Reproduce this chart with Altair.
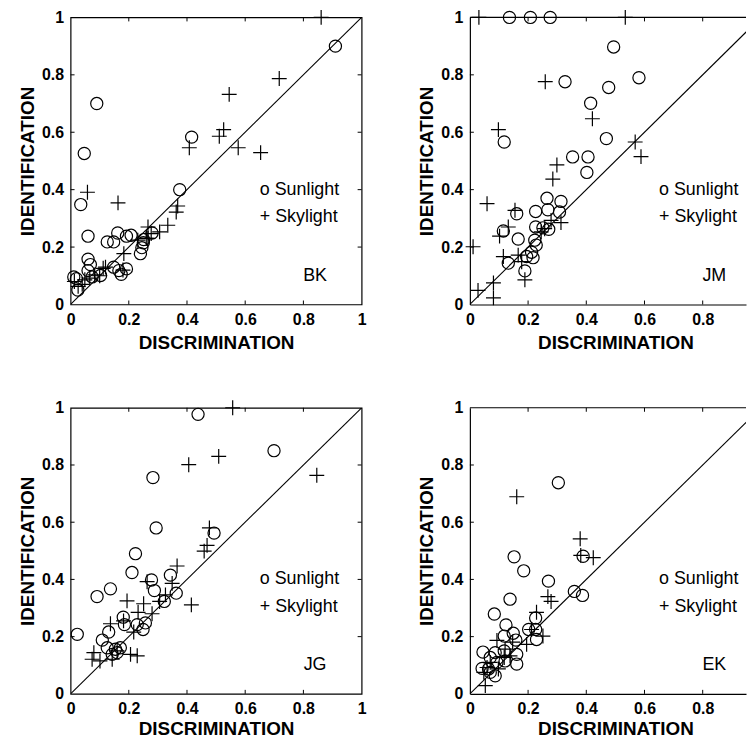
import altair as alt
import pandas as pd

TICKS = [0, 0.2, 0.4, 0.6, 0.8, 1]
INNER_TICKS = [0.2, 0.4, 0.6, 0.8]
DIAG = [0, 1]

# ---------------- BK ----------------
bk_sun_x = [0.91, 0.09, 0.047, 0.035, 0.416, 0.375, 0.060, 0.126, 0.148, 0.162, 0.192, 0.208,
            0.280, 0.251, 0.245, 0.240, 0.060, 0.068, 0.060, 0.148, 0.166, 0.174, 0.192, 0.103,
            0.074, 0.011, 0.025, 0.020, 0.250]
bk_sun_y = [0.90, 0.70, 0.526, 0.348, 0.583, 0.400, 0.238, 0.218, 0.218, 0.249, 0.238, 0.241,
            0.249, 0.226, 0.198, 0.177, 0.158, 0.139, 0.118, 0.130, 0.118, 0.105, 0.124, 0.101,
            0.096, 0.096, 0.050, 0.090, 0.215]
bk_sky_x = [0.861, 0.717, 0.545, 0.526, 0.511, 0.408, 0.576, 0.653, 0.058, 0.163, 0.368, 0.363,
            0.334, 0.306, 0.266, 0.277, 0.260, 0.231, 0.183, 0.112, 0.083, 0.049, 0.013, 0.026,
            0.066, 0.180, 0.266, 0.100, 0.120, 0.040]
bk_sky_y = [1.0, 0.787, 0.732, 0.609, 0.586, 0.546, 0.546, 0.529, 0.391, 0.354, 0.343, 0.322,
            0.276, 0.253, 0.270, 0.247, 0.230, 0.224, 0.177, 0.126, 0.103, 0.086, 0.080, 0.063,
            0.092, 0.120, 0.230, 0.100, 0.130, 0.070]

# ---------------- JM ----------------
jm_sun_x = [0.136, 0.208, 0.276, 0.494, 0.327, 0.581, 0.477, 0.415, 0.469, 0.118, 0.353, 0.406,
            0.402, 0.265, 0.313, 0.161, 0.226, 0.268, 0.308, 0.115, 0.226, 0.251, 0.271, 0.166,
            0.223, 0.228, 0.212, 0.195, 0.217, 0.132, 0.189]
jm_sun_y = [1.0, 1.0, 1.0, 0.897, 0.776, 0.790, 0.756, 0.701, 0.578, 0.566, 0.514, 0.514,
            0.460, 0.370, 0.359, 0.316, 0.324, 0.330, 0.322, 0.256, 0.270, 0.267, 0.262, 0.228,
            0.224, 0.207, 0.182, 0.167, 0.163, 0.144, 0.117]
jm_sky_x = [0.031, 0.534, 0.259, 0.421, 0.098, 0.568, 0.588, 0.299, 0.285, 0.059, 0.155, 0.132,
            0.102, 0.011, 0.115, 0.166, 0.178, 0.313, 0.279, 0.257, 0.245, 0.189, 0.081, 0.028,
            0.081]
jm_sky_y = [1.0, 1.0, 0.776, 0.647, 0.609, 0.566, 0.515, 0.486, 0.437, 0.351, 0.328, 0.270,
            0.238, 0.201, 0.167, 0.172, 0.149, 0.285, 0.293, 0.264, 0.253, 0.086, 0.075, 0.049,
            0.023]

# ---------------- JG ----------------
jg_sun_x = [0.438, 0.699, 0.283, 0.294, 0.493, 0.223, 0.211, 0.343, 0.278, 0.288, 0.363, 0.322,
            0.137, 0.091, 0.181, 0.185, 0.229, 0.249, 0.257, 0.131, 0.023, 0.109, 0.126, 0.154,
            0.160, 0.143, 0.171]
jg_sun_y = [0.977, 0.850, 0.756, 0.580, 0.562, 0.490, 0.424, 0.415, 0.398, 0.361, 0.352, 0.323,
            0.367, 0.340, 0.268, 0.242, 0.242, 0.225, 0.248, 0.216, 0.208, 0.188, 0.161, 0.156,
            0.144, 0.138, 0.161]
jg_sky_x = [0.557, 0.509, 0.406, 0.846, 0.477, 0.469, 0.459, 0.366, 0.263, 0.349, 0.194, 0.251,
            0.415, 0.306, 0.326, 0.232, 0.280, 0.137, 0.217, 0.080, 0.074, 0.101, 0.143, 0.206,
            0.229, 0.160, 0.182]
jg_sky_y = [1.0, 0.830, 0.801, 0.764, 0.580, 0.519, 0.499, 0.447, 0.392, 0.386, 0.325, 0.315,
            0.311, 0.323, 0.346, 0.285, 0.280, 0.245, 0.216, 0.144, 0.121, 0.115, 0.121, 0.138,
            0.133, 0.150, 0.255]

# ---------------- EK ----------------
ek_sun_x = [0.304, 0.152, 0.185, 0.389, 0.270, 0.138, 0.359, 0.387, 0.084, 0.124, 0.149, 0.202,
            0.226, 0.226, 0.229, 0.158, 0.118, 0.045, 0.087, 0.118, 0.161, 0.161, 0.070, 0.093,
            0.121, 0.064, 0.087, 0.070, 0.042]
ek_sun_y = [0.738, 0.479, 0.430, 0.481, 0.394, 0.331, 0.358, 0.344, 0.279, 0.241, 0.212, 0.225,
            0.265, 0.225, 0.190, 0.188, 0.202, 0.146, 0.144, 0.150, 0.138, 0.104, 0.127, 0.110,
            0.115, 0.087, 0.063, 0.075, 0.089]
ek_sky_x = [0.161, 0.379, 0.424, 0.381, 0.268, 0.279, 0.229, 0.212, 0.251, 0.195, 0.093, 0.147,
            0.121, 0.048, 0.053, 0.070, 0.098, 0.118, 0.138, 0.059]
ek_sky_y = [0.689, 0.542, 0.476, 0.484, 0.340, 0.323, 0.285, 0.225, 0.202, 0.173, 0.187, 0.181,
            0.156, 0.075, 0.029, 0.110, 0.087, 0.127, 0.133, 0.092]

UNIT = 293          # pixels per unit on the x axis
H_TOP, H_BOTTOM = 289, 288
W_RIGHT = 278       # right column is cut off by the page edge, as in the original
FONT = "Liberation Sans"
PLUS = "M-1,0H1M0,-1V1"


def panel(name, sun_x, sun_y, sky_x, sky_y, H, title_pad, cut=False):
    W = W_RIGHT if cut else UNIT
    xmax = W / UNIT
    xs = alt.Scale(domain=[0, xmax], nice=False, zero=False)
    ys = alt.Scale(domain=[0, 1], nice=False, zero=False)
    xvals = [t for t in TICKS if t <= xmax]
    x_axis = alt.Axis(title="DISCRIMINATION", values=xvals, format=".1~f",
                      labelPadding=7, titlePadding=title_pad, titleX=UNIT / 2,
                      domain=cut, domainColor="black", domainWidth=1.2)
    y_axis = alt.Axis(title="IDENTIFICATION", values=TICKS, format=".1~f",
                      labelPadding=7, titlePadding=4,
                      domain=cut, domainColor="black", domainWidth=1.2)

    def X(f):
        return alt.X(f, scale=xs, axis=x_axis, title="DISCRIMINATION")

    def Y(f):
        return alt.Y(f, scale=ys, axis=y_axis, title="IDENTIFICATION")

    diag = alt.Chart(pd.DataFrame({"a": [DIAG[0]], "b": [DIAG[1]]})).mark_rule(
        color="black", strokeWidth=1.1, clip=True
    ).encode(x=X("a:Q"), y=Y("a:Q"), x2="b:Q", y2="b:Q")

    sun = alt.Chart(pd.DataFrame({"x": sun_x, "y": sun_y})).mark_point(
        shape="circle", filled=False, size=150, color="black", strokeWidth=1.2, opacity=1
    ).encode(x=X("x:Q"), y=Y("y:Q"))

    sky = alt.Chart(pd.DataFrame({"x": sky_x, "y": sky_y})).mark_point(
        shape=PLUS, filled=False, size=225, color="black", strokeWidth=1.2, opacity=1
    ).encode(x=X("x:Q"), y=Y("y:Q"))

    tdf = pd.DataFrame({"v": INNER_TICKS})
    layers = [diag, sun, sky]
    layers.append(alt.Chart(tdf).mark_rule(color="black", strokeWidth=1).encode(
        x=X("v:Q"), y=alt.value(H), y2=alt.value(H - 4)))
    layers.append(alt.Chart(tdf).mark_rule(color="black", strokeWidth=1).encode(
        x=X("v:Q"), y=alt.value(0), y2=alt.value(4)))
    layers.append(alt.Chart(tdf).mark_rule(color="black", strokeWidth=1).encode(
        y=Y("v:Q"), x=alt.value(0), x2=alt.value(4)))
    if not cut:
        layers.append(alt.Chart(tdf).mark_rule(color="black", strokeWidth=1).encode(
            y=Y("v:Q"), x=alt.value(W), x2=alt.value(W - 4)))
    else:
        # top frame line (the right frame edge lies beyond the page)
        layers.append(alt.Chart(pd.DataFrame({"d": [0]})).mark_rule(
            color="black", strokeWidth=1.2).encode(
            x=alt.value(0), x2=alt.value(W), y=alt.value(0)))

    def txt(label, xv, yv, align):
        return alt.Chart(pd.DataFrame({"t": [label]})).mark_text(
            align=align, baseline="middle", fontSize=18, font=FONT, color="black"
        ).encode(x=alt.datum(xv), y=alt.datum(yv), text="t:N")

    layers += [txt("o Sunlight", 0.65, 0.40, "left"),
               txt("+ Skylight", 0.65, 0.305, "left"),
               txt(name, 0.84, 0.10, "center")]

    ch = alt.layer(*layers).properties(width=W, height=H)
    if cut:
        ch = ch.properties(view=alt.ViewBackground(strokeOpacity=0))
    return ch


p_bk = panel("BK", bk_sun_x, bk_sun_y, bk_sky_x, bk_sky_y, H_TOP, 6)
p_jm = panel("JM", jm_sun_x, jm_sun_y, jm_sky_x, jm_sky_y, H_TOP, 6, cut=True)
p_jg = panel("JG", jg_sun_x, jg_sun_y, jg_sky_x, jg_sky_y, H_BOTTOM, 3)
p_ek = panel("EK", ek_sun_x, ek_sun_y, ek_sky_x, ek_sky_y, H_BOTTOM, 3, cut=True)

top = alt.hconcat(p_bk, p_jm, spacing=50)
bottom = alt.hconcat(p_jg, p_ek, spacing=50)

chart = alt.vconcat(top, bottom, spacing=44).properties(
    padding={"left": 10, "top": -4, "right": 0, "bottom": 0},
    background="white",
).configure_view(
    stroke="black", strokeWidth=1.2
).configure_axis(
    grid=False, ticks=False, labelFlush=False, labelOverlap=False,
    labelFont=FONT, labelFontWeight="bold", labelFontSize=16, labelColor="black",
    titleFont=FONT, titleFontWeight="bold", titleFontSize=19, titleColor="black",
)

chart.save("out.html", embed_options={"renderer": "svg", "actions": False})
